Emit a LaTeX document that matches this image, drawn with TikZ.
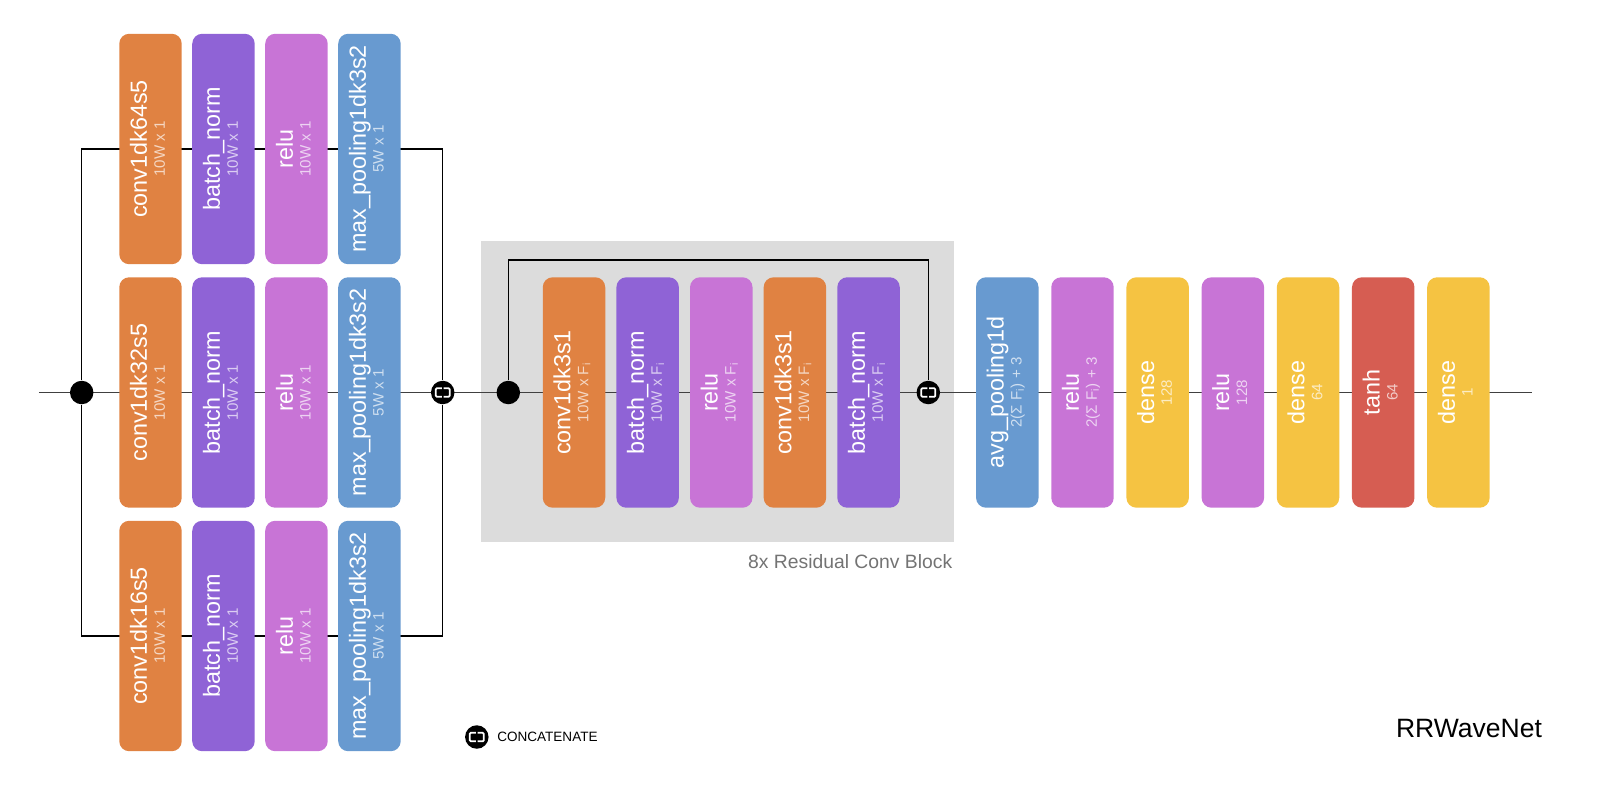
\documentclass[tikz,border=0pt]{standalone}
\usepackage{fontspec}
\setmainfont{Liberation Sans}
\usepackage{graphicx}
\usetikzlibrary{positioning}
\pgfdeclarelayer{back}
\pgfdeclarelayer{wires}
\pgfsetlayers{back,wires,main}
\definecolor{cOrange}{RGB}{224,130,66}
\definecolor{cPurple}{RGB}{143,99,214}
\definecolor{cPink}{RGB}{200,116,214}
\definecolor{cBlue}{RGB}{104,154,208}
\definecolor{cYellow}{RGB}{245,195,66}
\definecolor{cRed}{RGB}{214,93,82}
\definecolor{cGray}{RGB}{220,220,220}
\newcommand{\lbl}[2]{\rotatebox{90}{\begin{tabular}{@{}c@{}}\fontsize{13.3}{15}\selectfont #1\\[-1.8pt]\fontsize{8.6}{10}\selectfont\color{subcol}#2\end{tabular}}}
\begin{document}
\begin{tikzpicture}[x=0.02cm, y=-0.02cm, node distance=1.46cm,
  blk/.style={fill=#1, rounded corners=0.2cm, minimum width=1.25cm, minimum height=4.61cm, inner sep=0pt, text=white, execute at begin node={\colorlet{subcol}{#1!32!white}}},
  dot/.style={circle, fill=black, minimum size=0.47cm, inner sep=0pt},
  cat/.style={dot, path picture={
    \draw[white, line width=1pt, rounded corners=0.6pt] ([xshift=-0.5pt,yshift=2.4pt]path picture bounding box.center) -- ++(-3.5pt,0) -- ++(0,-4.8pt) -- ++(3.5pt,0);
    \draw[white, line width=1pt, rounded corners=0.6pt] ([xshift=0.5pt,yshift=2.4pt]path picture bounding box.center) -- ++(3.5pt,0) -- ++(0,-4.8pt) -- ++(-3.5pt,0);}},
  wire/.style={line width=0.75pt}]
\useasboundingbox (0,0) rectangle (1602,798);
\begin{pgfonlayer}{back}
\fill[cGray] (481,241) rectangle (953.6,542);
\end{pgfonlayer}
\coordinate (in) at (38.8,392.5);
\coordinate (out) at (1531.5,392.5);
\coordinate (rtop) at (700,260);
% three input branches
\node[blk=cOrange] (c1a) at (150.5,149) {\lbl{conv1dk64s5}{10W x 1}};
\node[blk=cPurple] (c1b) [right of=c1a] {\lbl{batch\_norm}{10W x 1}};
\node[blk=cPink] (c1c) [right of=c1b] {\lbl{relu}{10W x 1}};
\node[blk=cBlue] (c1d) [right of=c1c] {\lbl{max\_pooling1dk3s2}{5W x 1}};
\node[blk=cOrange] (c2a) at (150.5,392.5) {\lbl{conv1dk32s5}{10W x 1}};
\node[blk=cPurple] (c2b) [right of=c2a] {\lbl{batch\_norm}{10W x 1}};
\node[blk=cPink] (c2c) [right of=c2b] {\lbl{relu}{10W x 1}};
\node[blk=cBlue] (c2d) [right of=c2c] {\lbl{max\_pooling1dk3s2}{5W x 1}};
\node[blk=cOrange] (c3a) at (150.5,636) {\lbl{conv1dk16s5}{10W x 1}};
\node[blk=cPurple] (c3b) [right of=c3a] {\lbl{batch\_norm}{10W x 1}};
\node[blk=cPink] (c3c) [right of=c3b] {\lbl{relu}{10W x 1}};
\node[blk=cBlue] (c3d) [right of=c3c] {\lbl{max\_pooling1dk3s2}{5W x 1}};
\node[dot] (split) at (81.7,392.5) {};
\node[cat] (cat1) at (442.7,392.5) {};
% residual block
\begin{scope}[node distance=1.473cm]
\node[blk=cOrange] (r1) at (574,392.5) {\lbl{conv1dk3s1}{10W x F\textsubscript{i}}};
\node[blk=cPurple] (r2) [right of=r1] {\lbl{batch\_norm}{10W x F\textsubscript{i}}};
\node[blk=cPink] (r3) [right of=r2] {\lbl{relu}{10W x F\textsubscript{i}}};
\node[blk=cOrange] (r4) [right of=r3] {\lbl{conv1dk3s1}{10W x F\textsubscript{i}}};
\node[blk=cPurple] (r5) [right of=r4] {\lbl{batch\_norm}{10W x F\textsubscript{i}}};
\end{scope}
\node[dot] (rsplit) at (508.3,392.5) {};
\node[cat] (rcat) at (928.3,392.5) {};
\node[anchor=east, inner sep=0pt, text=black!55, font=\fontsize{11}{13}\selectfont] (rlabel) at (952.6,561.5) {8x Residual Conv Block};
% head
\begin{scope}[node distance=1.504cm]
\node[blk=cBlue] (h1) at (1007.3,392.5) {\lbl{avg\_pooling1d}{2(Σ F\textsubscript{i}) + 3}};
\node[blk=cPink] (h2) [right of=h1] {\lbl{relu}{2(Σ F\textsubscript{i}) + 3}};
\node[blk=cYellow] (h3) [right of=h2] {\lbl{dense}{128}};
\node[blk=cPink] (h4) [right of=h3] {\lbl{relu}{128}};
\node[blk=cYellow] (h5) [right of=h4] {\lbl{dense}{64}};
\node[blk=cRed] (h6) [right of=h5] {\lbl{tanh}{64}};
\node[blk=cYellow] (h7) [right of=h6] {\lbl{dense}{1}};
\end{scope}
% legend and title
\node[cat] (key) at (476.8,737) {};
\node[anchor=west, inner sep=0pt, font=\fontsize{7.7}{9}\selectfont] (keytext) at (497,737) {CONCATENATE};
\node[anchor=west, inner sep=0pt, font=\fontsize{15.1}{18}\selectfont] (title) at (1395.7,728) {RRWaveNet};
\begin{pgfonlayer}{wires}
\draw[wire, black!75] (in) -- (out);
\draw[wire] (split) |- (c1a.center) -| (cat1);
\draw[wire] (split) |- (c3a.center) -| (cat1);
\draw[wire] (rsplit) |- (rtop) -| (rcat);
\end{pgfonlayer}
\end{tikzpicture}
\end{document}
